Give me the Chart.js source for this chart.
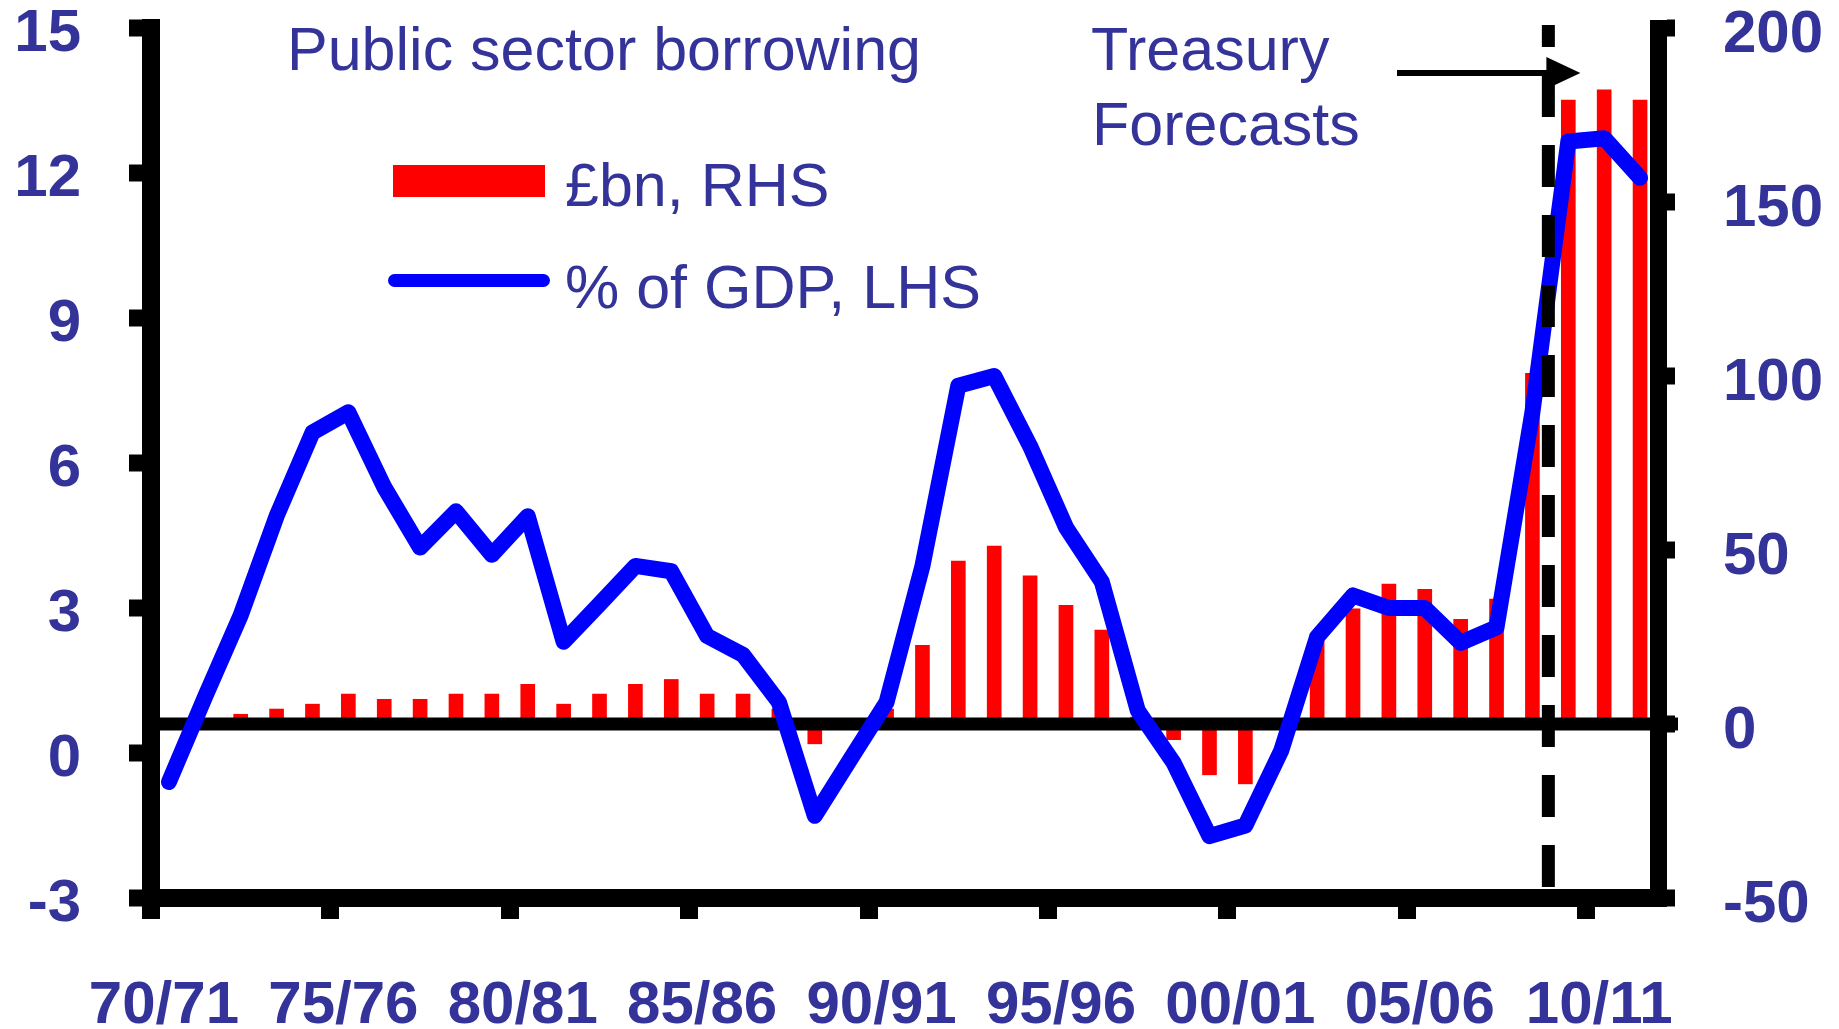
<!DOCTYPE html>
<html>
<head>
<meta charset="utf-8">
<title>Public sector borrowing</title>
<script src="https://cdn.jsdelivr.net/npm/chart.js@4.4.1/dist/chart.umd.min.js"></script>
<style>
  html, body { margin: 0; padding: 0; background: #fff; }
  #wrap { position: relative; width: 1839px; height: 1029px; }
  .note {
    position: absolute;
    font: 61px "Liberation Sans", Arial, sans-serif;
    line-height: 60px;
    color: #333399;
    white-space: nowrap;
  }
  .key { position: absolute; }
</style>
</head>
<body>
<div id="wrap">
  <canvas id="psbrChart"></canvas>

  <div class="note" style="left:287px; top:19px">Public sector borrowing</div>
  <div class="note" style="left:1091px; top:19px">Treasury</div>
  <div class="note" style="left:1092px; top:94px">Forecasts</div>

  <!-- legend -->
  <div class="key" style="left:393px; top:165px; width:152px; height:32px; background:#FF0000"></div>
  <div class="note" style="left:565px; top:155px">£bn, RHS</div>
  <div class="key" style="left:388px; top:274px; width:162px; height:13px; border-radius:7px; background:#0000FF"></div>
  <div class="note" style="left:565px; top:257px">% of GDP, LHS</div>
</div>

<script>
// financial years on the category axis
const years = ['70/71', '71/72', '72/73', '73/74', '74/75', '75/76', '76/77', '77/78', '78/79', '79/80',
               '80/81', '81/82', '82/83', '83/84', '84/85', '85/86', '86/87', '87/88', '88/89', '89/90',
               '90/91', '91/92', '92/93', '93/94', '94/95', '95/96', '96/97', '97/98', '98/99', '99/00',
               '00/01', '01/02', '02/03', '03/04', '04/05', '05/06', '06/07', '07/08', '08/09', '09/10',
               '10/11', '11/12'];

// public sector borrowing, £bn (right axis)
const borrowingBn = [-0.3, 0.3, 2.8, 4.3, 5.7, 8.6, 7.1, 7.1, 8.6, 8.6,
                     11.4, 5.7, 8.6, 11.4, 12.8, 8.6, 8.6, 4.3, -5.7, -0.3,
                     4.3, 22.6, 46.8, 51.1, 42.6, 34.1, 27.0, 2, -4.5, -14.6,
                     -17.2, 0.3, 26, 33.1, 40.2, 38.7, 30.1, 35.9, 100.8, 179.3,
                     182.2, 179.3];

// public sector borrowing, % of GDP (left axis)
const borrowingPct = [-0.6, 1.15, 2.85, 4.9, 6.63, 7.05, 5.5, 4.25, 5.0, 4.1,
                      4.9, 2.3, 3.08, 3.87, 3.76, 2.42, 2.03, 1.05, -1.3, -0.12,
                      1.05, 3.87, 7.6, 7.8, 6.35, 4.67, 3.54, 0.88, -0.2, -1.72,
                      -1.5, 0.05, 2.4, 3.26, 3.0, 3.0, 2.28, 2.6, 7.05, 12.65,
                      12.72, 11.9];

// axis ranges
const leftAxis = { min: -3, max: 15, step: 3 };
const rightAxis = { min: -50, max: 200, step: 50 };

// first forecast year (09/10)
const forecastStart = years.indexOf('09/10');

const labelColor = '#333399';
const tickFont = { family: 'Liberation Sans', size: 60, weight: 'bold' };

// zero line over the bars, dashed forecast marker and arrow
const overlayPlugin = {
    id: 'overlay',
    afterDatasetDraw(chart, args) {
        if (args.meta.type !== 'bar') return;
        const { ctx, chartArea, scales } = chart;
        const y0 = scales.y1.getPixelForValue(0);
        ctx.save();
        ctx.fillStyle = '#000';
        ctx.fillRect(chartArea.left, y0 - 6.5, chartArea.right - chartArea.left + 20, 13);
        ctx.restore();
    },
    afterDatasetsDraw(chart) {
        const { ctx, chartArea, scales } = chart;
        const xf = scales.x.getPixelForValue(forecastStart - 0.5) - 2;
        ctx.save();
        ctx.strokeStyle = '#000';
        ctx.fillStyle = '#000';
        ctx.lineWidth = 13;
        ctx.setLineDash([42, 28]);
        ctx.lineDashOffset = 20;
        ctx.beginPath();
        ctx.moveTo(xf, chartArea.top - 3);
        ctx.lineTo(xf, chartArea.bottom - 9);
        ctx.stroke();

        // arrow
        ctx.setLineDash([]);
        ctx.lineWidth = 6;
        ctx.beginPath();
        ctx.moveTo(1397, 73);
        ctx.lineTo(xf + 10, 73);
        ctx.stroke();
        ctx.beginPath();
        ctx.moveTo(xf - 2, 57);
        ctx.lineTo(xf + 32, 73);
        ctx.lineTo(xf - 2, 89);
        ctx.closePath();
        ctx.fill();
        ctx.restore();
    }
};

const ctxPsbr = document.getElementById('psbrChart').getContext('2d');
new Chart(ctxPsbr, {
    type: 'bar',
    data: {
        labels: years,
        datasets: [{
            type: 'line',
            label: '% of GDP, LHS',
            data: borrowingPct,
            yAxisID: 'y',
            borderColor: '#0000FF',
            borderWidth: 16,
            borderCapStyle: 'round',
            borderJoinStyle: 'round',
            pointRadius: 0,
            tension: 0,
            order: 0
        }, {
            type: 'bar',
            label: '£bn, RHS',
            data: borrowingBn,
            yAxisID: 'y1',
            backgroundColor: '#FF0000',
            barThickness: 14,
            order: 1
        }]
    },
    options: {
        responsive: true,
        maintainAspectRatio: false,
        animation: false,
        layout: { padding: { top: 28, left: 0, right: 0, bottom: 0 } },
        plugins: {
            legend: { display: false },
            tooltip: { enabled: false }
        },
        scales: {
            x: {
                offset: true,
                grid: {
                    offset: true,
                    drawOnChartArea: false,
                    tickLength: 21,
                    lineWidth: 18,
                    tickWidth: 18,
                    tickColor: c => (c.index % 5 === 0 ? '#000' : 'rgba(0,0,0,0)')
                },
                border: { color: '#000', width: 18 },
                ticks: {
                    autoSkip: false,
                    maxRotation: 0,
                    padding: 51,
                    labelOffset: -5,
                    color: labelColor,
                    font: tickFont,
                    callback: (v, i) => (i % 5 === 0 ? years[i] : '')
                },
                afterFit(s) { s.height = 131; s.paddingLeft = 0; s.paddingRight = 0; }
            },
            y: {
                position: 'left',
                min: leftAxis.min,
                max: leftAxis.max,
                grid: {
                    drawOnChartArea: false,
                    tickLength: 22,
                    lineWidth: 0,
                    tickWidth: 17,
                    tickColor: '#000'
                },
                border: { color: '#000', width: 18 },
                ticks: { stepSize: leftAxis.step, padding: 48, labelOffset: 6, color: labelColor, font: tickFont },
                afterFit(s) { s.width = 151; s.paddingTop = 0; s.paddingBottom = 0; }
            },
            y1: {
                position: 'right',
                min: rightAxis.min,
                max: rightAxis.max,
                grid: {
                    drawOnChartArea: false,
                    tickLength: 17,
                    lineWidth: 0,
                    tickWidth: 17,
                    tickColor: '#000'
                },
                border: { color: '#000', width: 17 },
                ticks: { stepSize: rightAxis.step, padding: 48, labelOffset: 7, color: labelColor, font: tickFont },
                afterFit(s) { s.width = 181; s.paddingTop = 0; s.paddingBottom = 0; }
            }
        }
    },
    plugins: [overlayPlugin]
});
</script>
</body>
</html>
